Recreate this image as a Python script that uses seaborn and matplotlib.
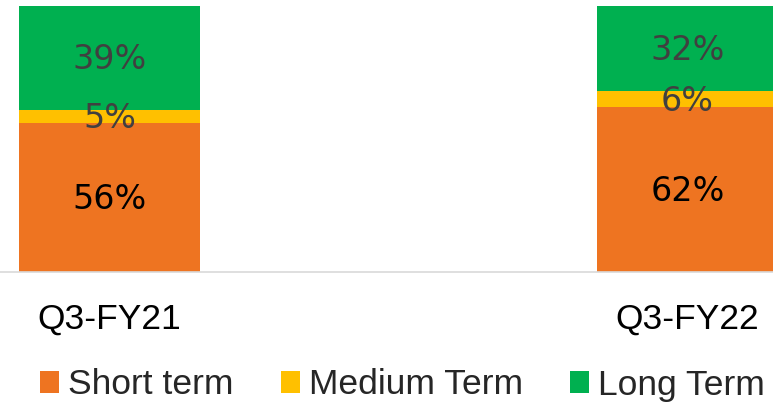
import matplotlib
matplotlib.use("Agg")
import matplotlib.pyplot as plt
import seaborn as sns
import pandas as pd
import numpy as np
from matplotlib.patches import Patch

categories = ["Q3-FY21", "Q3-FY22"]
series_names = ["Short term", "Medium Term", "Long Term"]
short_term = [56, 62]
medium_term = [5, 6]
long_term = [39, 32]
colors = ["#EE7421", "#FFC000", "#00B050"]
label_colors = ["#000000", "#404040", "#404040"]

sns.set_theme(style="white")
plt.rcParams["font.family"] = ["DejaVu Sans"]

fig = plt.figure(figsize=(7.73, 4.04), dpi=100)
ax = fig.add_axes([0, (404 - 272) / 404, 1, 266 / 404])

series = [short_term, medium_term, long_term]
cum = np.cumsum(np.array(series), axis=0)
# draw cumulative totals from top to bottom so each layer shows
for i in reversed(range(len(series))):
    df = pd.DataFrame({"cat": categories, "val": cum[i]})
    sns.barplot(data=df, x="cat", y="val", color=colors[i], saturation=1,
                width=0.313, linewidth=0, ax=ax, order=categories)

# labels centered in each segment
for i in range(len(series)):
    bottoms = cum[i] - np.array(series[i])
    for j, cat in enumerate(categories):
        yc = bottoms[j] + series[i][j] / 2
        ax.text(j, yc - 0.8, f"{series[i][j]}%", ha="center", va="center",
                fontsize=24, color=label_colors[i], family="DejaVu Sans")

ax.set_ylim(0, 100)
ax.set_xlim(-109.5 / 578, 1 + (773 - 687.5) / 578)
ax.set_xlabel("")
ax.set_ylabel("")
ax.set_yticks([])
for s in ["top", "left", "right"]:
    ax.spines[s].set_visible(False)
ax.spines["bottom"].set_color("#D9D9D9")
ax.spines["bottom"].set_linewidth(1.2)
ax.tick_params(axis="x", length=0, pad=22)
for lbl in ax.get_xticklabels():
    lbl.set_fontfamily("Liberation Sans")
    lbl.set_fontsize(25.5)
    lbl.set_color("#000000")

handles = [Patch(facecolor=c, edgecolor="none") for c in colors]
leg = fig.legend(handles, series_names, loc="center left",
                 bbox_to_anchor=(40 / 773, 19 / 404), ncol=3, frameon=False,
                 prop={"family": "Liberation Sans", "size": 25.5},
                 handlelength=0.55, handleheight=0.55, handletextpad=0.24,
                 columnspacing=1.33, borderpad=0, borderaxespad=0)

fig.savefig("out.png", dpi=100)
